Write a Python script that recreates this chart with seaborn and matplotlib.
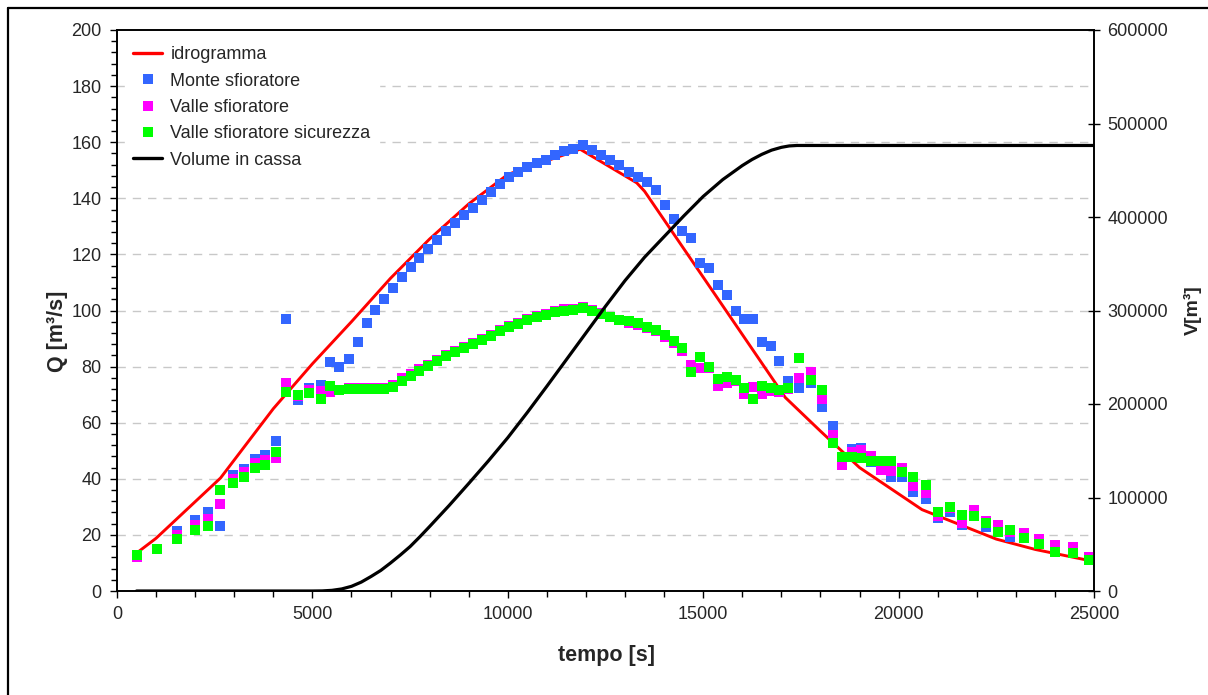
import matplotlib
matplotlib.use("Agg")
import matplotlib.pyplot as plt
from matplotlib.lines import Line2D
from matplotlib.ticker import MultipleLocator, FuncFormatter
import seaborn as sns
import pandas as pd

# ---------------- data ----------------
t_idro = [500, 1000, 2650, 4000, 5000, 6000, 7000, 8000, 9000, 10000, 11850,
          13300, 13500, 17100, 18000, 19000, 20600, 22500, 23500, 24900]
q_idro = [13.5, 18.8, 40.3, 65.0, 81.0, 96.0, 111.5, 125.5, 138.0, 148.5, 157.5,
          145.5, 142.5, 69.0, 57.0, 44.0, 29.0, 18.5, 14.8, 10.8]

t_mis = [500, 1015, 1544, 1996, 2329, 2636, 2968, 3258, 3531, 3796, 4060, 4324,
         4623, 4921, 5220, 5450, 5688, 5937, 6159, 6389, 6610, 6840, 7063, 7286,
         7517, 7738, 7968, 8190, 8421, 8651, 8873, 9103, 9334, 9560, 9801, 10031,
         10270, 10500, 10740, 10975, 11209, 11445, 11677, 11915, 12148, 12386,
         12616, 12855, 13090, 13320, 13555, 13785, 14024, 14245, 14470, 14700,
         14920, 15150, 15372, 15602, 15833, 16054, 16284, 16498, 16728, 16948,
         17178, 17460, 17755, 18045, 18315, 18561, 18802, 19040, 19288, 19544,
         19808, 20090, 20378, 20695, 21002, 21317, 21624, 21931, 22246, 22553,
         22852, 23210, 23602, 24003, 24456, 24881]

q_monte = [12.5, 14.8, 21.4, 25.4, 28.2, 23.0, 41.4, 43.6, 47.1, 48.6, 53.5, 96.8,
           68.2, 72.5, 73.3, 81.6, 79.9, 82.7, 88.7, 95.6, 100.1, 104.2, 108.1, 112.0,
           115.5, 118.7, 122.0, 125.2, 128.3, 131.1, 134.0, 136.7, 139.5, 142.3, 145.0, 147.7,
           149.5, 151.3, 152.5, 153.7, 155.5, 156.7, 157.5, 158.9, 157.3, 155.4,
           153.7, 151.8, 149.4, 147.7, 145.8, 142.8, 137.5, 132.7, 128.3, 125.7,
           117.0, 115.2, 109.0, 105.7, 99.8, 96.8, 96.8, 88.8, 87.3, 82.1,
           74.8, 72.4, 74.0, 65.6, 58.8, 47.0, 50.6, 50.9, 46.0, 44.1,
           40.8, 40.8, 35.2, 32.8, 26.2, 28.3, 23.5, 28.3, 22.7, 23.0,
           19.4, 20.3, 18.0, 16.0, 15.2, 11.8]

q_valle = [12.0, 14.8, 20.0, 23.6, 25.7, 31.1, 40.0, 42.4, 45.8, 46.6, 47.5, 74.2,
           69.6, 71.6, 71.2, 71.0, 71.8, 72.2, 72.2, 72.2, 72.2, 72.2, 73.3, 75.8,
           77.3, 79.1, 80.6, 82.4, 84.1, 85.5, 87.0, 88.5, 90.0, 91.4, 93.0, 94.4,
           95.6, 96.9, 98.0, 98.8, 99.7, 100.4, 100.6, 101.1, 100.1, 99.1,
           97.8, 96.5, 95.6, 95.0, 93.6, 92.6, 90.7, 88.3, 85.6, 80.7,
           79.4, 79.5, 73.0, 74.2, 75.0, 70.4, 72.7, 70.2, 71.2, 70.9,
           72.0, 76.1, 78.1, 68.6, 55.7, 45.0, 49.7, 50.4, 48.2, 43.2,
           42.9, 43.8, 37.5, 34.9, 26.7, 29.5, 24.4, 28.7, 24.8, 23.6,
           21.0, 20.8, 18.4, 16.4, 15.6, 12.1]

q_sicurezza = [13.0, 14.9, 18.5, 21.8, 23.2, 36.1, 38.5, 40.8, 43.8, 44.8, 49.6, 71.0,
               70.0, 70.5, 68.5, 73.2, 71.5, 71.9, 71.9, 71.9, 71.9, 71.9, 72.6, 75.0,
               76.8, 78.6, 80.2, 82.0, 83.7, 85.1, 86.6, 88.2, 89.6, 91.0, 92.6, 94.0,
               95.2, 96.5, 97.7, 98.5, 99.4, 100.0, 100.3, 100.9, 99.9, 98.9,
               97.6, 96.7, 96.1, 95.5, 94.1, 93.2, 91.4, 89.0, 86.6, 78.2,
               83.6, 79.8, 75.6, 76.3, 75.4, 72.4, 68.4, 73.2, 72.4, 71.8,
               72.4, 82.9, 75.4, 71.5, 52.7, 47.7, 47.9, 47.4, 46.2, 46.4,
               46.5, 42.6, 40.8, 37.8, 28.3, 29.9, 27.0, 26.8, 24.2, 21.2,
               21.6, 18.8, 16.7, 14.0, 13.5, 10.9]

t_vol = [500, 5000, 5250, 5500, 5750, 6000, 6250, 6500, 6750, 7000, 7250, 7500,
         7750, 8000, 8500, 9000, 9500, 10000, 10500, 11000, 11500, 12000, 12500,
         13000, 13500, 14000, 14500, 15000, 15500, 16000, 16250, 16500, 16750,
         17000, 17200, 17400, 25000]
v_vol = [0, 0, 100, 700, 2200, 5000, 9500, 15500, 22000, 30000, 38500, 47500,
         58000, 69000, 91500, 115000, 139000, 164000, 191000, 219000, 247500,
         276000, 304500, 332000, 357000, 379000, 401000, 422000, 440000, 455000,
         461500, 467000, 471500, 474500, 476000, 476500, 476500]

labels = ["idrogramma", "Monte sfioratore", "Valle sfioratore",
          "Valle sfioratore sicurezza", "Volume in cassa"]
xlabel = "tempo [s]"
ylabel_left = "Q [m³/s]"
ylabel_right = "V[m³]"

c_red = "#FF0000"
c_blue = "#3366FF"
c_mag = "#FF00FF"
c_green = "#00FF00"
c_black = "#000000"

# ---------------- figure ----------------
sns.set_theme(style="white")
plt.rcParams["font.family"] = ["Liberation Sans", "DejaVu Sans"]

fig = plt.figure(figsize=(12.08, 6.95), dpi=100)
W, H = 1208, 695
ax = fig.add_axes([117 / W, 1 - 591 / H, (1094 - 117) / W, (591 - 30) / H])
ax2 = ax.twinx()

df_idro = pd.DataFrame({"t": t_idro, "q": q_idro})
df_mis = pd.DataFrame({"t": t_mis, "monte": q_monte, "valle": q_valle, "sic": q_sicurezza})
df_vol = pd.DataFrame({"t": t_vol, "v": v_vol})

sns.lineplot(data=df_idro, x="t", y="q", ax=ax, color=c_red, lw=2.1,
             sort=False, estimator=None, zorder=2)
msize = 58
sns.scatterplot(data=df_mis, x="t", y="monte", ax=ax, marker="s", s=msize,
                color=c_blue, linewidth=0, zorder=3)
sns.scatterplot(data=df_mis, x="t", y="valle", ax=ax, marker="s", s=msize,
                color=c_mag, linewidth=0, zorder=4)
sns.scatterplot(data=df_mis, x="t", y="sic", ax=ax, marker="s", s=msize,
                color=c_green, linewidth=0, zorder=5)
sns.lineplot(data=df_vol, x="t", y="v", ax=ax2, color=c_black, lw=2.3,
             sort=False, estimator=None)

# axes limits / ticks
ax.set_xlim(0, 25000)
ax.set_ylim(0, 200)
ax2.set_ylim(0, 600000)
ax.xaxis.set_major_locator(MultipleLocator(5000))
ax.xaxis.set_minor_locator(MultipleLocator(1000))
ax.yaxis.set_major_locator(MultipleLocator(20))
ax.yaxis.set_minor_locator(MultipleLocator(4))
ax2.yaxis.set_major_locator(MultipleLocator(100000))
ax2.yaxis.set_major_formatter(FuncFormatter(lambda v, p: f"{int(round(v))}"))

ax.grid(False)
ax2.grid(False)
for yv in range(20, 200, 20):
    ax.axhline(yv, color="#C8C8C8", lw=1.0, ls=(0, (6, 5)), zorder=0)

for a in (ax, ax2):
    for s in a.spines.values():
        s.set_color("black")
        s.set_linewidth(1.2)

fs_tick = 13
ax.tick_params(axis="x", which="major", direction="out", length=5, width=1,
               color="black", labelsize=fs_tick, pad=6, bottom=True)
ax.tick_params(axis="x", which="minor", direction="out", length=4, width=1,
               color="black", bottom=True)
ax.tick_params(axis="y", which="major", direction="out", length=5, width=1,
               color="black", labelsize=fs_tick, pad=6, left=True)
ax.tick_params(axis="y", which="minor", direction="out", length=4, width=1,
               color="black", left=True)
ax2.tick_params(axis="y", which="major", direction="inout", length=9, width=1,
                color="black", labelsize=fs_tick, pad=5, right=True)

ax.set_xlabel("")
ax.set_ylabel("")
ax2.set_ylabel("")
fig.text(606 / W, 1 - 655 / H, xlabel, fontsize=15.5, fontweight="bold",
         ha="center", va="center")
fig.text(58 / W, 1 - 331 / H, ylabel_left, fontsize=15.5, fontweight="bold",
         ha="center", va="center", rotation=90)
fig.text(1193 / W, 1 - 310 / H, ylabel_right, fontsize=14, fontweight="bold",
         ha="center", va="center", rotation=90)

ax2.set_zorder(ax.get_zorder() + 1)
ax2.patch.set_visible(False)

handles = [
    Line2D([], [], color=c_red, lw=2.4),
    Line2D([], [], color=c_blue, marker="s", ls="none", markersize=7, markeredgewidth=0),
    Line2D([], [], color=c_mag, marker="s", ls="none", markersize=7, markeredgewidth=0),
    Line2D([], [], color=c_green, marker="s", ls="none", markersize=7, markeredgewidth=0),
    Line2D([], [], color=c_black, lw=2.4),
]
leg = ax2.legend(handles, labels, loc="upper left", bbox_to_anchor=(0.0, 1.0),
                 frameon=True, fontsize=13, labelspacing=0.52, handlelength=1.6,
                 handletextpad=0.45, borderpad=0.45, borderaxespad=0.45)
leg.get_frame().set_facecolor("white")
leg.get_frame().set_edgecolor("white")
leg.get_frame().set_alpha(1.0)
leg.set_zorder(20)

# outer chart border (Excel style)
fig.add_artist(Line2D([8 / W, 1.0], [1 - 8 / H, 1 - 8 / H], color="black", lw=1.6,
                      transform=fig.transFigure))
fig.add_artist(Line2D([8 / W, 8 / W], [0.0, 1 - 8 / H], color="black", lw=1.6,
                      transform=fig.transFigure))

fig.savefig("out.png", dpi=100, facecolor="white")
